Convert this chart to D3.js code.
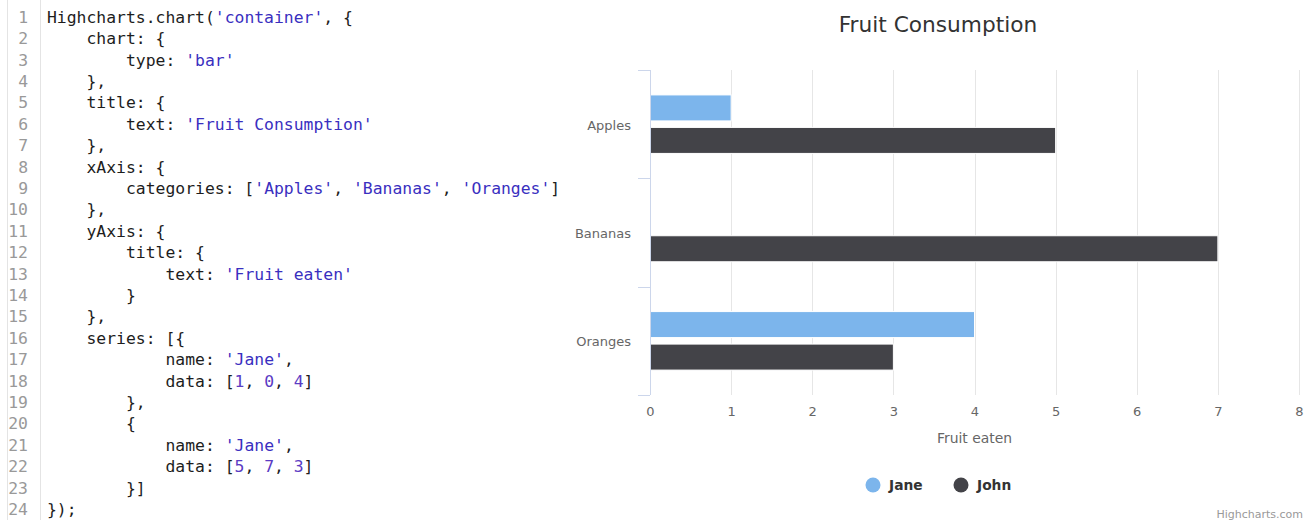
<!DOCTYPE html>
<html>
<head>
<meta charset="utf-8">
<script src="https://cdn.jsdelivr.net/npm/d3@7"></script>
<style>
  body { margin: 0; background: #fff; }
  svg { display: block; }
</style>
</head>
<body>
<svg id="view" width="1313" height="520"></svg>
<script>
// --- code listing shown on the left ---
const codeLines = [
  "Highcharts.chart('container', {",
  "    chart: {",
  "        type: 'bar'",
  "    },",
  "    title: {",
  "        text: 'Fruit Consumption'",
  "    },",
  "    xAxis: {",
  "        categories: ['Apples', 'Bananas', 'Oranges']",
  "    },",
  "    yAxis: {",
  "        title: {",
  "            text: 'Fruit eaten'",
  "        }",
  "    },",
  "    series: [{",
  "            name: 'Jane',",
  "            data: [1, 0, 4]",
  "        },",
  "        {",
  "            name: 'Jane',",
  "            data: [5, 7, 3]",
  "        }]",
  "});"
];

// --- chart data ---
const categories = ["Apples", "Bananas", "Oranges"];
const seriesNames = ["Jane", "John"];
const janeValues = [1, 0, 4];
const johnValues = [5, 7, 3];
const seriesColors = ["#7cb5ec", "#434348"];
const valueTicks = [0, 1, 2, 3, 4, 5, 6, 7, 8];

const svg = d3.select("#view");

// ---------- code panel ----------
const code = { left: 47, top: 17, lineStep: 21.4, charW: 9.87 };

svg.append("line")
   .attr("x1", 7.5).attr("x2", 7.5).attr("y1", 0).attr("y2", 520)
   .attr("stroke", "#e4e4e4");
svg.append("line")
   .attr("x1", 40.5).attr("x2", 40.5).attr("y1", 0).attr("y2", 520)
   .attr("stroke", "#e4e4e4");

const codeG = svg.append("g")
   .style("font-family", "'DejaVu Sans Mono', monospace")
   .style("font-size", "16.4px");

codeLines.forEach((line, i) => {
  const y = code.top + i * code.lineStep;
  codeG.append("text")
       .attr("x", 28).attr("y", y)
       .attr("dy", "0.35em")
       .attr("text-anchor", "end")
       .attr("fill", "#999")
       .text(i + 1);

  // split into strings / numbers / plain text and colour them
  const txt = codeG.append("text").attr("y", y).attr("dy", "0.35em");
  const re = /('[^']*')|(\b\d+\b)|([^'\d]+)/g;
  let m, col = 0;
  while ((m = re.exec(line)) !== null) {
    const tok = m[0];
    const lead = m[3] ? tok.match(/^ */)[0].length : 0;
    const shown = m[3] ? tok.slice(lead) : tok;
    if (shown.length) {
      txt.append("tspan")
         .attr("x", code.left + (col + lead) * code.charW)
         .attr("fill", m[1] ? "#3a2fbf" : m[2] ? "#5b3cc4" : "#1d1d1d")
         .style("white-space", "pre")
         .text(shown);
    }
    col += tok.length;
  }
});

// ---------- bar chart ----------
const plot = { left: 650, right: 1299, top: 70, bottom: 395 };
const font = "'DejaVu Sans', sans-serif";

const xScale = d3.scaleLinear().domain([0, 8]).range([plot.left, plot.right]);
const yScale = d3.scaleBand().domain(categories).range([plot.top, plot.bottom]);
const bw = yScale.bandwidth();
const ySub = d3.scaleBand().domain(seriesNames)
               .range([0.2 * bw, 0.8 * bw])
               .paddingInner(0.2).paddingOuter(0.1);

svg.append("text")
   .attr("x", 938).attr("y", 24).attr("dy", "0.35em")
   .attr("text-anchor", "middle")
   .style("font-family", font).style("font-size", "21.7px")
   .attr("fill", "#333")
   .text("Fruit Consumption");

// grid
svg.append("g").selectAll("line")
   .data(valueTicks)
   .join("line")
   .attr("x1", d => Math.round(xScale(d)) + 0.5)
   .attr("x2", d => Math.round(xScale(d)) + 0.5)
   .attr("y1", plot.top).attr("y2", plot.bottom)
   .attr("stroke", "#e6e6e6");

// value axis labels
const xAxis = d3.axisBottom(xScale).tickValues(valueTicks).tickSize(0).tickPadding(0);
const xg = svg.append("g")
   .attr("transform", `translate(0,${plot.bottom + 12})`)
   .call(xAxis);
xg.select(".domain").remove();
xg.selectAll("text")
  .style("font-family", font).style("font-size", "13px")
  .attr("fill", "#666");

svg.append("text")
   .attr("x", (plot.left + plot.right) / 2).attr("y", 438).attr("dy", "0.35em")
   .attr("text-anchor", "middle")
   .style("font-family", font).style("font-size", "13.9px")
   .attr("fill", "#666")
   .text("Fruit eaten");

// bars
const seriesData = [janeValues, johnValues];
seriesNames.forEach((name, s) => {
  svg.append("g").selectAll("rect")
     .data(categories.map((c, i) => ({ cat: c, value: seriesData[s][i] })))
     .join("rect")
     .attr("x", xScale(0))
     .attr("y", d => yScale(d.cat) + ySub(name))
     .attr("width", d => xScale(d.value) - xScale(0))
     .attr("height", ySub.bandwidth())
     .attr("fill", seriesColors[s])
     .attr("stroke", d => d.value ? "#fff" : "none")
     .attr("stroke-width", 1);
});

// category axis
const boundaries = categories.map(c => yScale(c)).concat([plot.bottom]);
const catG = svg.append("g");
catG.append("line")
    .attr("x1", plot.left + 0.5).attr("x2", plot.left + 0.5)
    .attr("y1", plot.top).attr("y2", plot.bottom)
    .attr("stroke", "#ccd6eb");
catG.selectAll(".tick")
    .data(boundaries)
    .join("line")
    .attr("x1", plot.left - 12).attr("x2", plot.left)
    .attr("y1", d => Math.round(d) + 0.5).attr("y2", d => Math.round(d) + 0.5)
    .attr("stroke", "#ccd6eb");
catG.selectAll("text")
    .data(categories)
    .join("text")
    .attr("x", 631)
    .attr("y", d => yScale(d) + bw / 2 + 1)
    .attr("dy", "0.35em")
    .attr("text-anchor", "end")
    .style("font-family", font).style("font-size", "13px")
    .attr("fill", "#666")
    .text(d => d);

// legend
const legendX = [873, 961];
const legend = svg.append("g").selectAll("g")
   .data(seriesNames)
   .join("g")
   .attr("transform", (d, i) => `translate(${legendX[i]},485)`);
legend.append("circle")
   .attr("r", 7.5)
   .attr("fill", (d, i) => seriesColors[i]);
legend.append("text")
   .attr("x", 16).attr("dy", "0.35em")
   .style("font-family", font).style("font-size", "13.8px")
   .style("font-weight", "bold")
   .attr("fill", "#333")
   .text(d => d);

// credits
svg.append("text")
   .attr("x", 1303).attr("y", 514).attr("dy", "0.35em")
   .attr("text-anchor", "end")
   .style("font-family", font).style("font-size", "11px")
   .attr("fill", "#999")
   .text("Highcharts.com");
</script>
</body>
</html>
